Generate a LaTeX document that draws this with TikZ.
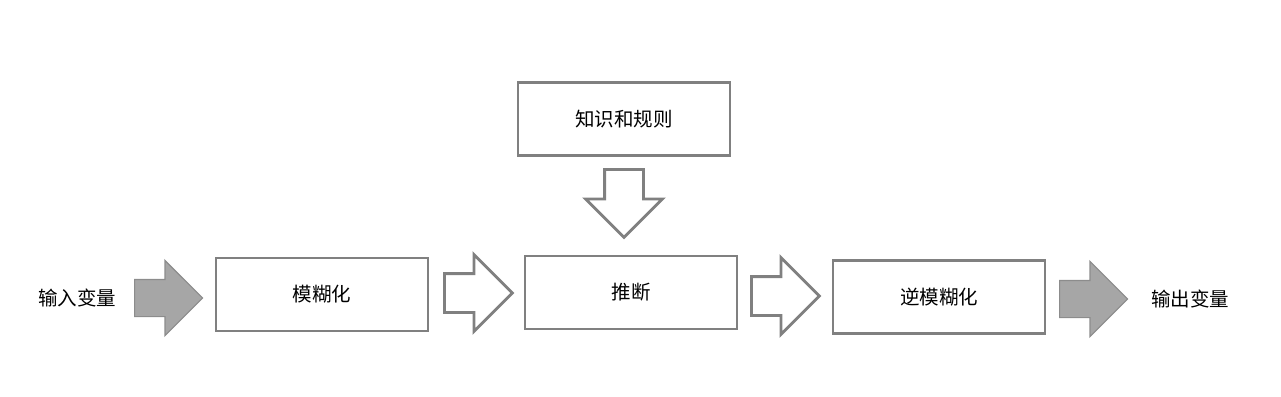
\documentclass[tikz,border=0pt]{standalone}
\usepackage{fontspec}
\setmainfont{Noto Sans CJK SC}
\usetikzlibrary{shapes.arrows,positioning}
\definecolor{boxgray}{RGB}{128,128,128}
\definecolor{arrowfill}{RGB}{166,166,166}
\definecolor{arrowline}{RGB}{140,140,140}

\begin{document}
\begin{tikzpicture}[x=1pt,y=-1pt,
  every node/.style={font=\fontsize{19.5}{23}\selectfont},
  box/.style={draw=boxgray, line width=2.8pt, fill=white, minimum width=212pt, minimum height=73pt, inner sep=0pt},
  blockarrow/.style={single arrow, single arrow head extend=19pt, minimum height=68pt, inner xsep=0pt, inner ysep=18pt, anchor=tail},
  fillarrow/.style={blockarrow, draw=arrowline, line width=1.2pt, fill=arrowfill},
  openarrow/.style={blockarrow, draw=boxgray, line width=2.8pt, fill=white}]
\useasboundingbox (0,0) rectangle (1281,396);
\node[box] (rules) at (624,119) {知识和规则};
\node[box] (fuzz) at (322,294.5) {模糊化};
\node[box] (infer) at (631,292.5) {推断};
\node[box] (defuzz) at (939,297) {逆模糊化};
\node (input) at (77,298) {输入变量};
\node (output) at (1190,299) {输出变量};
\node[fillarrow] (a1) at (134,298) {};
\node[openarrow] (a2) at (443,293) {};
\node[openarrow] (a3) at (750,296) {};
\node[fillarrow] (a4) at (1059,299) {};
\node[openarrow, shape border rotate=270, inner xsep=18pt, inner ysep=0pt] (a5) at (624,168) {};
\end{tikzpicture}
\end{document}
